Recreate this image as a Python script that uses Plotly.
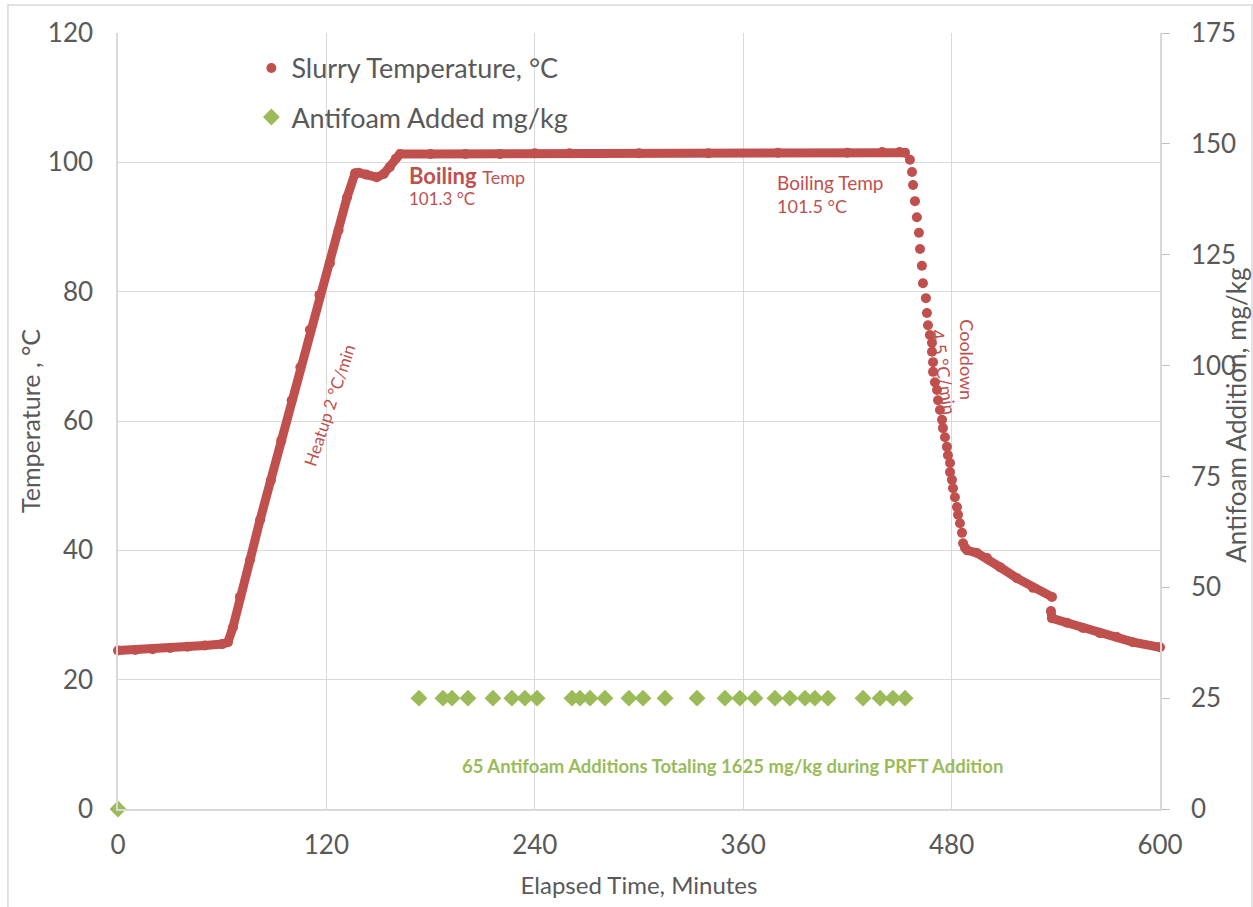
import plotly.graph_objects as go

# ---------------- data ----------------
# Dense heat-up / boiling segment (minutes, °C)
heat_time = [0, 10, 20, 30, 40, 50, 60, 63.3, 66.2, 70.2, 76.0, 81.8, 88, 94, 100, 105,
             110.5, 116, 122, 127, 131.9, 136.5, 138.5, 143, 149, 153, 156.6, 160, 162.4,
             180, 200, 220, 240, 260, 300, 340, 380, 420, 440, 450, 453.2]
heat_temp = [24.5, 24.6, 24.7, 24.9, 25.1, 25.3, 25.5, 25.8, 28.1, 32.8, 38.5, 44.7, 50.8, 57.0, 63.2, 68.3,
             74.1, 79.5, 84.4, 89.5, 94.6, 98.3, 98.4, 98.1, 97.7, 98.2, 99.3, 100.6, 101.3,
             101.3, 101.3, 101.3, 101.4, 101.4, 101.4, 101.4, 101.5, 101.5, 101.6, 101.6, 101.5]

# Sparse cooldown segment (individual logged points)
cool_time = [456.0, 457.2, 457.8, 458.9, 460.0, 461.2, 461.8, 462.9, 463.5, 465.2, 465.8, 466.4,
             467.5, 468.7, 468.7, 469.3, 469.3, 470.4, 471.6, 472.2, 473.3, 474.5, 475.0, 476.2,
             477.3, 477.9, 479.1, 479.1, 480.2, 480.8, 481.9, 483.1, 483.7, 484.8, 486.0, 486.6]
cool_temp = [100.4, 98.5, 96.5, 94.0, 91.5, 89.1, 86.6, 84.0, 81.3, 79.0, 76.7, 74.8,
             73.3, 72.1, 70.7, 69.1, 67.6, 66.0, 64.8, 63.2, 61.7, 60.2, 58.9, 57.5,
             56.0, 54.7, 53.5, 52.1, 50.9, 49.6, 48.2, 46.7, 45.5, 44.2, 42.7, 41.1]

# Dense tail after cooldown, before the step
tail1_time = [487.7, 488.9, 494.6, 500.4, 507.9, 517.6, 526.9, 537.8]
tail1_temp = [40.4, 40.0, 39.6, 38.8, 37.4, 35.7, 34.2, 32.8]

# Dense tail after the step
tail2_time = [537.2, 537.8, 546.4, 555.6, 565.4, 575.2, 584.4, 600]
tail2_temp = [30.6, 29.5, 28.8, 28.0, 27.2, 26.6, 25.8, 25.0]

# Antifoam additions (minutes, mg/kg)
foam_time = [0, 173.3, 187.1, 192.3, 201.5, 215.9, 226.8, 234.3, 241.3, 261.4, 266.0, 271.8,
             280.4, 294.2, 302.3, 315.0, 333.4, 349.5, 358.1, 366.8, 378.3, 386.9, 395.6,
             401.3, 408.8, 429.0, 438.8, 446.2, 453.2]
foam_value = [0] + [25] * 28

x_ticks = [0, 120, 240, 360, 480, 600]
y_ticks = [0, 20, 40, 60, 80, 100, 120]
y2_ticks = [0, 25, 50, 75, 100, 125, 150, 175]

# ---------------- style ----------------
RED = "#C0504D"
GREEN = "#9BBB59"
GRID = "#D9D9D9"
TXT = "#595959"
FONT = "Lato"

all_time = heat_time + cool_time + tail1_time + tail2_time
all_temp = heat_temp + cool_temp + tail1_temp + tail2_temp

# dense segments drawn as thick line (gaps between segments)
line_time = heat_time + [None] + tail1_time + [None] + tail2_time
line_temp = heat_temp + [None] + tail1_temp + [None] + tail2_temp

fig = go.Figure()

fig.add_trace(go.Scatter(
    x=line_time, y=line_temp, mode="lines",
    line=dict(color=RED, width=9), connectgaps=False,
    showlegend=False, hoverinfo="skip", cliponaxis=False))

fig.add_trace(go.Scatter(
    x=all_time, y=all_temp, mode="markers",
    marker=dict(color=RED, size=10, symbol="circle"),
    name="Slurry Temperature, °C", legendgroup="a", cliponaxis=False))

fig.add_trace(go.Scatter(
    x=foam_time, y=foam_value, mode="markers", yaxis="y2",
    marker=dict(color=GREEN, size=13, symbol="diamond"),
    name="Antifoam Added mg/kg", legendgroup="b", cliponaxis=False))

fig.update_layout(
    width=1253, height=907,
    margin=dict(l=118, r=93, t=33, b=98, autoexpand=False),
    paper_bgcolor="white", plot_bgcolor="white",
    font=dict(family=FONT, color=TXT, size=24),
    xaxis=dict(range=[0, 600], tickvals=x_ticks, showgrid=True, gridcolor=GRID, gridwidth=1,
               zeroline=False, showline=True, linecolor=GRID, linewidth=1.5, ticks="",
               tickfont=dict(size=26, color=TXT), ticklabelstandoff=12, automargin=False,
               title=dict(text="Elapsed Time, Minutes", font=dict(size=24, color=TXT), standoff=18)),
    yaxis=dict(range=[0, 120], tickvals=y_ticks, showgrid=True, gridcolor=GRID, gridwidth=1,
               zeroline=False, showline=True, linecolor=GRID, linewidth=1.5, ticks="",
               tickfont=dict(size=26, color=TXT), ticklabelstandoff=18, automargin=False,
               title=dict(text="Temperature , °C", font=dict(size=25, color=TXT), standoff=0)),
    yaxis2=dict(range=[0, 175], tickvals=y2_ticks, overlaying="y", side="right",
                showgrid=False, zeroline=False, showline=True, linecolor=GRID, linewidth=1.5,
                ticks="outside", ticklen=8, tickcolor="#BFBFBF", automargin=False,
                tickfont=dict(size=26, color=TXT), ticklabelstandoff=16),
    legend=dict(x=0.128, y=0.986, xanchor="left", yanchor="top", bgcolor="rgba(0,0,0,0)",
                font=dict(size=27, color=TXT), tracegroupgap=11, itemsizing="trace"),
    showlegend=True,
)

# outer chart frame
fig.add_shape(type="path", xref="paper", yref="paper",
              path="M -0.1056,-0.2 L -0.1056,1.036 L 1.0883,1.036 L 1.0883,-0.2",
              line=dict(color=GRID, width=1.5))

# right axis title
fig.add_annotation(xref="paper", yref="paper", x=1.0729, y=0.508,
                   text="Antifoam Addition, mg/kg", textangle=-90, showarrow=False,
                   font=dict(size=26, color=TXT), xanchor="center", yanchor="middle")

ann = [
    dict(x=166.4, y=97.9, text="<b>Boiling</b> <span style='font-size:18px'>Temp</span>",
         font=dict(size=22, color=RED), xanchor="left", yanchor="middle"),
    dict(x=166.4, y=94.4, text="101.3 °C", font=dict(size=17, color=RED),
         xanchor="left", yanchor="middle"),
    dict(x=378.5, y=96.9, text="Boiling Temp", font=dict(size=19, color=RED),
         xanchor="left", yanchor="middle"),
    dict(x=378.5, y=93.2, text="101.5 °C", font=dict(size=18, color=RED),
         xanchor="left", yanchor="middle"),
    dict(x=122.0, y=62.5, text="Heatup 2 °C/min", font=dict(size=17, color=RED),
         textangle=-71.6, xanchor="center", yanchor="middle"),
    dict(x=488.8, y=69.4, text="Cooldown", font=dict(size=18, color=RED),
         textangle=90, xanchor="center", yanchor="middle"),
    dict(x=475.6, y=67.6, text="4.5 °C/min", font=dict(size=18, color=RED),
         textangle=81.5, xanchor="center", yanchor="middle"),
    dict(x=354.0, y=9.8, text="<b>65 Antifoam Additions Totaling 1625 mg/kg during PRFT Addition</b>",
         font=dict(size=18.5, color=GREEN), xanchor="center", yanchor="middle", yref="y2"),
]
for a in ann:
    a.setdefault("yref", "y")
    a.update(xref="x", showarrow=False)
    fig.add_annotation(**a)

fig.write_html("out.html")
